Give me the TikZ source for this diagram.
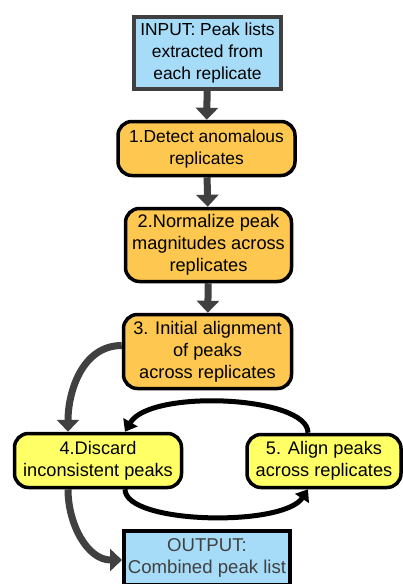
\documentclass[tikz,border=0pt]{standalone}
\usepackage{fontspec}
\setmainfont{Liberation Sans}
\usetikzlibrary{arrows.meta}

\definecolor{inblue}{RGB}{166,220,248}
\definecolor{steporange}{RGB}{253,199,80}
\definecolor{loopyellow}{RGB}{255,255,102}
\definecolor{arrowgrey}{RGB}{64,64,64}

\tikzset{
    box/.style={align=center, inner sep=1pt, font=\fontsize{17.4}{22}\selectfont},
    big/.style={font=\fontsize{18.2}{22}\selectfont},
    inbox/.style={box, draw=arrowgrey, line width=4pt, fill=inblue},
    outbox/.style={box, draw=black, line width=4pt, fill=inblue, text=arrowgrey},
    stepbox/.style={box, draw=black, line width=3.5pt, rounded corners=14pt, fill=steporange},
    loopbox/.style={box, big, draw=black, line width=3.5pt, rounded corners=14pt, fill=loopyellow},
    flow/.style={draw=arrowgrey, line width=7pt, -{Triangle[width=22pt,length=12pt]}},
    cyc/.style={draw=black, line width=5pt, -{Triangle[width=16pt,length=11pt]}},
}

\begin{document}
\begin{tikzpicture}[x=1pt, y=-1pt]
    \useasboundingbox (0,0) rectangle (403,584);

    % main column
    \node[inbox, minimum width=147pt, minimum height=72pt] (input) at (207.5,53)
        {INPUT: Peak lists\\extracted from\\each replicate};
    \node[stepbox, minimum width=177pt, minimum height=54pt] (s1) at (206.5,148.5)
        {1.Detect anomalous\\replicates};
    \node[stepbox, big, minimum width=166pt, minimum height=73pt] (s2) at (208.5,245)
        {2.Normalize peak\\magnitudes across\\replicates};
    \node[stepbox, big, minimum width=168pt, minimum height=74pt] (s3) at (207.5,351.5)
        {3. Initial alignment\\of peaks\\across replicates};

    % loop
    \node[loopbox, minimum width=167pt, minimum height=54pt] (s4) at (98,460.5)
        {4.Discard\\inconsistent peaks};
    \node[loopbox, minimum width=154pt, minimum height=53pt] (s5) at (324,461)
        {5. Align peaks\\across replicates};

    \node[outbox, font=\fontsize{18.6}{22}\selectfont, minimum width=166pt, minimum height=54pt] (output) at (207,558)
        {OUTPUT:\\Combined peak list};

    \draw[flow] (input) -- (s1);
    \draw[flow] (s1) -- (s2);
    \draw[flow] (s2) -- (s3);

    \draw[flow] ([yshift=6pt]s3.west) to[out=180, in=90] ([xshift=-30pt]s4.north);
    \draw[flow] ([xshift=-30pt]s4.south) to[out=270, in=180] ([yshift=-2pt]output.west);

    \draw[cyc] ([xshift=-16pt]s5.north) .. controls +(0,-37) and +(25,-43) .. ([xshift=27pt]s4.north);
    \draw[cyc] ([xshift=27pt]s4.south) .. controls +(0,35) and +(-25,38) .. ([xshift=-16pt]s5.south);
\end{tikzpicture}
\end{document}
